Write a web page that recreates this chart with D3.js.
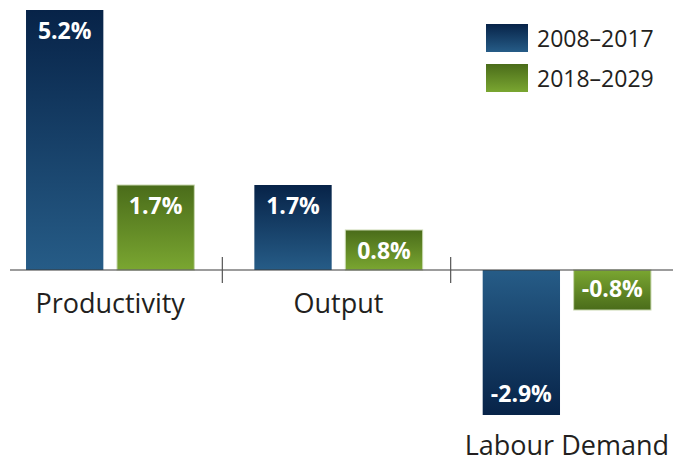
<!DOCTYPE html>
<html>
<head>
<meta charset="utf-8">
<script src="https://cdn.jsdelivr.net/npm/d3@7"></script>
<style>
  body { margin: 0; background: #fff; }
  svg { display: block; font-family: "Open Sans", sans-serif; }
</style>
</head>
<body>
<div id="chart-area"></div>
<script>
const categories = ["Productivity", "Output", "Labour Demand"];
const series = ["2008–2017", "2018–2029"];
const earlier = [5.2, 1.7, -2.9];
const later = [1.7, 0.8, -0.8];

const width = 685;
const height = 460;

const data = categories.map((c, i) => ({ category: c, values: [earlier[i], later[i]] }));

const svg = d3.select("#chart-area")
  .append("svg")
  .attr("width", width)
  .attr("height", height);

// gradients: dark at the far end of each bar, lighter near the baseline
const defs = svg.append("defs");
const palette = [
  { dark: "#072348", light: "#265c87" },
  { dark: "#4a6c1a", light: "#7aa631" }
];
palette.forEach((p, i) => {
  ["pos", "neg"].forEach(dir => {
    const grad = defs.append("linearGradient")
      .attr("id", `grad-${i}-${dir}`)
      .attr("x1", 0).attr("y1", 0)
      .attr("x2", 0).attr("y2", 1);
    grad.append("stop").attr("offset", "0%")
      .attr("stop-color", dir === "pos" ? p.dark : p.light);
    grad.append("stop").attr("offset", "100%")
      .attr("stop-color", dir === "pos" ? p.light : p.dark);
  });
});

const x0 = d3.scaleBand()
  .domain(categories)
  .range([-4, 681]);

const x1 = d3.scaleBand()
  .domain(series)
  .range([0, x0.bandwidth()])
  .paddingInner(0.15)
  .paddingOuter(0.33);

const y = d3.scaleLinear()
  .domain([-3, 5.4])
  .range([420, 0]);

const groups = svg.selectAll(".group")
  .data(data)
  .enter()
  .append("g")
  .attr("class", "group")
  .attr("transform", d => `translate(${x0(d.category)}, 0)`);

const bars = groups.selectAll(".bar")
  .data(d => d.values.map((v, i) => ({ value: v, series: series[i], idx: i })))
  .enter()
  .append("g")
  .attr("class", "bar");

bars.append("rect")
  .attr("x", d => x1(d.series))
  .attr("y", d => y(Math.max(0, d.value)))
  .attr("width", x1.bandwidth())
  .attr("height", d => Math.abs(y(d.value) - y(0)))
  .attr("fill", d => `url(#grad-${d.idx}-${d.value >= 0 ? "pos" : "neg"})`)
  .attr("stroke", d => d.idx === 1 ? "#c9d8b0" : "none")
  .attr("stroke-width", 1);

bars.append("text")
  .attr("x", d => x1(d.series) + x1.bandwidth() / 2)
  .attr("y", d => d.value >= 0 ? y(d.value) + 29 : y(d.value) - 13)
  .attr("text-anchor", "middle")
  .attr("fill", "#fff")
  .attr("font-size", "23px")
  .attr("font-weight", "bold")
  .text(d => d.value.toFixed(1) + "%");

// baseline
svg.append("line")
  .attr("x1", 10)
  .attr("x2", 673)
  .attr("y1", y(0))
  .attr("y2", y(0))
  .attr("stroke", "#3a3a3a")
  .attr("stroke-width", 1.2);

// separator ticks between categories
svg.selectAll(".sep")
  .data(categories.slice(1))
  .enter()
  .append("line")
  .attr("class", "sep")
  .attr("x1", d => x0(d) - 2)
  .attr("x2", d => x0(d) - 2)
  .attr("y1", y(0) - 13)
  .attr("y2", y(0) + 13)
  .attr("stroke", "#555")
  .attr("stroke-width", 1.2);

// category labels sit under the baseline, or under the lowest negative bar
groups.append("text")
  .attr("x", x0.bandwidth() / 2)
  .attr("y", d => {
    const low = d3.min(d.values);
    return low < 0 ? y(low) + 40 : y(0) + 43;
  })
  .attr("text-anchor", "middle")
  .attr("fill", "#231f20")
  .attr("font-size", "27px")
  .text(d => d.category);

// legend
const legend = svg.selectAll(".legend")
  .data(series)
  .enter()
  .append("g")
  .attr("class", "legend")
  .attr("transform", (d, i) => `translate(486, ${24 + i * 40})`);

legend.append("rect")
  .attr("width", 42)
  .attr("height", 28)
  .attr("fill", (d, i) => `url(#grad-${i}-pos)`);

legend.append("text")
  .attr("x", 51)
  .attr("y", 23)
  .attr("fill", "#231f20")
  .attr("font-size", "23px")
  .text(d => d);
</script>
</body>
</html>
